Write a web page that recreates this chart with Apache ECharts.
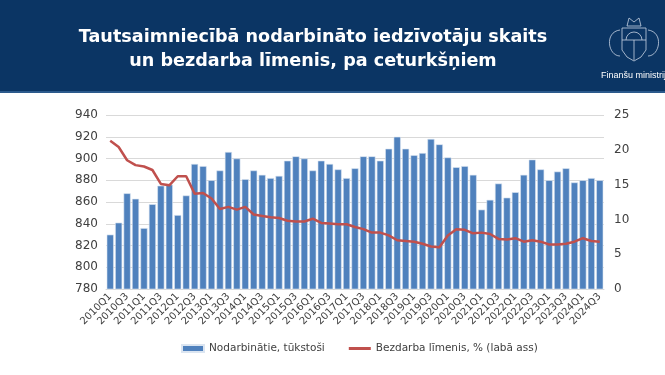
<!DOCTYPE html>
<html>
<head>
<meta charset="utf-8">
<script src="https://cdn.jsdelivr.net/npm/echarts@6/dist/echarts.min.js"></script>
<style>
  html, body { margin: 0; padding: 0; background: #fff; }
  #main { width: 665px; height: 375px; }
</style>
</head>
<body>
<div id="main"></div>
<script>
// ceturkšņi 2010Q1 .. 2024Q3
const quarters = [];
for (let y = 2010; y <= 2024; y++) {
  for (let q = 1; q <= 4; q++) {
    if (y === 2024 && q > 3) break;
    quarters.push(y + 'Q' + q);
  }
}

// Nodarbinātie, tūkstoši
const employed = [
  830, 841, 868, 863, 836, 858, 875, 876, 848, 866, 895, 893,
  880, 889, 906, 900, 881, 889, 885, 882, 884, 898, 902, 900,
  889, 898, 895, 890, 882, 891, 902, 902, 898, 909, 920, 909,
  903, 905, 918, 913, 901, 892, 893, 885, 853, 862, 877, 864,
  869, 885, 899, 890, 880, 888, 891, 878, 880, 882, 880
];

// Bezdarba līmenis, %
const unemployment = [
  21.3, 20.4, 18.5, 17.8, 17.6, 17.1, 15.1, 14.9, 16.2, 16.2, 13.7, 13.8,
  13.0, 11.5, 11.8, 11.4, 11.8, 10.7, 10.5, 10.3, 10.2, 9.8, 9.7, 9.7,
  10.1, 9.5, 9.4, 9.3, 9.3, 8.9, 8.6, 8.1, 8.1, 7.7, 7.0, 6.9,
  6.8, 6.5, 6.1, 6.0, 7.7, 8.6, 8.5, 8.0, 8.1, 7.9, 7.2, 7.1,
  7.3, 6.8, 7.0, 6.8, 6.4, 6.4, 6.5, 6.8, 7.3, 6.9, 6.8
];

const titleText = 'Tautsaimniecībā nodarbināto iedzīvotāju skaits\nun bezdarba līmenis, pa ceturkšņiem';

var myChart = echarts.init(document.getElementById('main'));

const emblemStroke = { fill: 'none', stroke: '#c8d3e3', lineWidth: 0.8 };

var option = {
  animation: false,
  textStyle: { fontFamily: 'DejaVu Sans' },
  graphic: [
    { type: 'rect', x: 0, y: 0, shape: { width: 665, height: 92 }, style: { fill: '#0b3564' } },
    { type: 'rect', x: 0, y: 91, shape: { width: 665, height: 2 }, style: { fill: '#2c5a8c' } },
    {
      type: 'text', x: 313, y: 25, z: 10,
      style: {
        text: titleText, fill: '#fff', font: 'bold 17.6px "DejaVu Sans"',
        align: 'center', verticalAlign: 'top', lineHeight: 24
      }
    },
    {
      type: 'text', x: 601, y: 71, z: 10,
      style: { text: 'Finanšu ministrija', fill: '#fff', font: '9px "Liberation Sans"' }
    },
    // ģerbonis – vienkāršots
    { type: 'polygon', z: 10, shape: { points: [[622, 28], [646, 28], [646, 50], [641, 57], [634, 61], [627, 57], [622, 50]] }, style: emblemStroke },
    { type: 'arc', z: 10, shape: { cx: 634, cy: 40, r: 8, startAngle: Math.PI, endAngle: 0 }, style: emblemStroke },
    { type: 'line', z: 10, shape: { x1: 622, y1: 40, x2: 646, y2: 40 }, style: emblemStroke },
    { type: 'line', z: 10, shape: { x1: 634, y1: 40, x2: 634, y2: 60 }, style: emblemStroke },
    { type: 'bezierCurve', z: 10, shape: { x1: 620, y1: 30, cpx1: 604, cpy1: 32, cpx2: 608, cpy2: 56, x2: 620, y2: 56 }, style: emblemStroke },
    { type: 'bezierCurve', z: 10, shape: { x1: 648, y1: 30, cpx1: 664, cpy1: 32, cpx2: 660, cpy2: 56, x2: 648, y2: 56 }, style: emblemStroke },
    { type: 'polygon', z: 10, shape: { points: [[627, 26], [629, 18], [634, 22], [639, 18], [641, 26]] }, style: emblemStroke }
  ],
  legend: {
    top: 338,
    left: 176,
    itemGap: 24,
    itemWidth: 22,
    itemHeight: 7,
    textStyle: { fontSize: 10.5, color: '#404040', fontFamily: 'DejaVu Sans' },
    data: [
      { name: 'Nodarbinātie, tūkstoši', icon: 'rect' },
      { name: 'Bezdarba līmenis, % (labā ass)', icon: 'path://M0,0H22V3H0Z' }
    ]
  },
  grid: { left: 106, right: 61, top: 115, bottom: 86 },
  xAxis: {
    type: 'category',
    data: quarters,
    axisLine: { show: true, lineStyle: { color: '#d9d9d9' } },
    axisTick: { show: false },
    axisLabel: {
      interval: 1, rotate: 45, fontSize: 10, color: '#404040', margin: 6
    }
  },
  yAxis: [
    {
      type: 'value', min: 780, max: 940, interval: 20,
      axisLine: { show: false }, axisTick: { show: false },
      axisLabel: { fontSize: 12, color: '#404040', margin: 8 },
      splitLine: { lineStyle: { color: '#d9d9d9' } }
    },
    {
      type: 'value', min: 0, max: 25, interval: 5,
      axisLine: { show: false }, axisTick: { show: false },
      axisLabel: { fontSize: 12, color: '#404040', margin: 10 },
      splitLine: { show: false }
    }
  ],
  series: [
    {
      name: 'Nodarbinātie, tūkstoši',
      type: 'bar',
      data: employed,
      barCategoryGap: '16%',
      itemStyle: { color: '#4f81bd', borderColor: '#dbe5f1', borderWidth: 0.6 }
    },
    {
      name: 'Bezdarba līmenis, % (labā ass)',
      type: 'line',
      yAxisIndex: 1,
      data: unemployment,
      symbol: 'none',
      lineStyle: { color: '#c0504d', width: 2.5 },
      itemStyle: { color: '#c0504d' }
    }
  ]
};

option && myChart.setOption(option);
</script>
</body>
</html>
